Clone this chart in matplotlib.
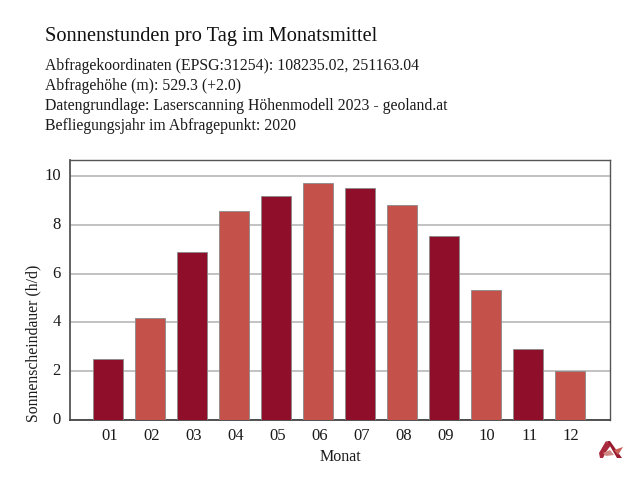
import matplotlib
matplotlib.use("Agg")
import matplotlib.pyplot as plt
from matplotlib.patches import Polygon
from matplotlib.transforms import ScaledTranslation

months = ["01","02","03","04","05","06","07","08","09","10","11","12"]
sun_hours = [2.5,4.2,6.9,8.55,9.2,9.7,9.5,8.8,7.55,5.33,2.9,2.0]
bar_colors = ["#8f0f2b","#c4524a"]
title = "Sonnenstunden pro Tag im Monatsmittel"
info_lines = ["Abfragekoordinaten (EPSG:31254): 108235.02, 251163.04",
              "Abfragehöhe (m): 529.3 (+2.0)",
              "Datengrundlage: Laserscanning Höhenmodell 2023 - geoland.at",
              "Befliegungsjahr im Abfragepunkt: 2020"]
info_y = [66,86,106,126]

plt.rcParams['font.family'] = ['Liberation Serif','DejaVu Serif']
W,H = 640,480
fig = plt.figure(figsize=(6.4,4.8),dpi=100)
ax = fig.add_axes([70/W,1-420/H,540/W,260/H])
x = list(range(1,13))
ax.bar(x,sun_hours,width=0.71,color=[bar_colors[i%2] for i in range(12)],
       edgecolor="#8a8a8a",linewidth=0.6,zorder=3)
ax.set_xlim(0.095,12.952)
ax.set_ylim(0,10.66)
ax.set_xticks(x,months)
ax.set_yticks([0,2,4,6,8,10])
ax.grid(axis='y',color="#bdbdbd",linewidth=1.3,zorder=0)
ax.set_axisbelow(True)
ax.tick_params(axis='x',length=0,labelsize=12,labelcolor="#1a1a1a",pad=6)
ax.tick_params(axis='y',length=0,labelsize=12,labelcolor="#1a1a1a",pad=6.5)
for lab in ax.get_yticklabels():
    lab.set_verticalalignment('center')
shift = ScaledTranslation(1.2/100,0,fig.dpi_scale_trans)
for lab in ax.get_xticklabels():
    lab.set_transform(lab.get_transform()+shift)
ax.set_xlabel("Monat",fontsize=11.5,color="#1a1a1a")
ax.xaxis.set_label_coords(0.5,-(461-420)/260)
ax.xaxis.label.set_verticalalignment('baseline')
ax.set_ylabel("Sonnenscheindauer (h/d)",fontsize=11.3,color="#1a1a1a")
ax.yaxis.set_label_coords((33-70)/540,(420-343)/260)
ax.yaxis.label.set_verticalalignment('center')
for s in ['top','left','right']:
    ax.spines[s].set_color("#555555"); ax.spines[s].set_linewidth(1.0)
ax.spines['left'].set_linewidth(1.3)
ax.spines['bottom'].set_color("#444444"); ax.spines['bottom'].set_linewidth(1.3)

fig.text(45/W,1-36.5/H,title,fontsize=14.7,color="#111111",va='center',ha='left')
for l,y in zip(info_lines,info_y):
    fig.text(45/W,1-y/H,l,fontsize=11.3,color="#1a1a1a",va='center',ha='left')

def px(pts): return [(a/W,1-b/H) for a,b in pts]
fig.add_artist(Polygon(px([(599,453),(606,441),(611,445),(606,452),(603,458),(600,458)]),closed=True,color="#a82a3c",lw=0,transform=fig.transFigure))
fig.add_artist(Polygon(px([(607,441),(610,441),(622,458),(617,458)]),closed=True,color="#9a1a30",lw=0,transform=fig.transFigure))
fig.add_artist(Polygon(px([(603,453),(610,450),(614,455),(606,456)]),closed=True,color="#d08a84",lw=0,transform=fig.transFigure))
fig.add_artist(Polygon(px([(614,450),(623,447),(618,455)]),closed=True,color="#c9605a",lw=0,transform=fig.transFigure))
fig.savefig("out.png",dpi=100)
